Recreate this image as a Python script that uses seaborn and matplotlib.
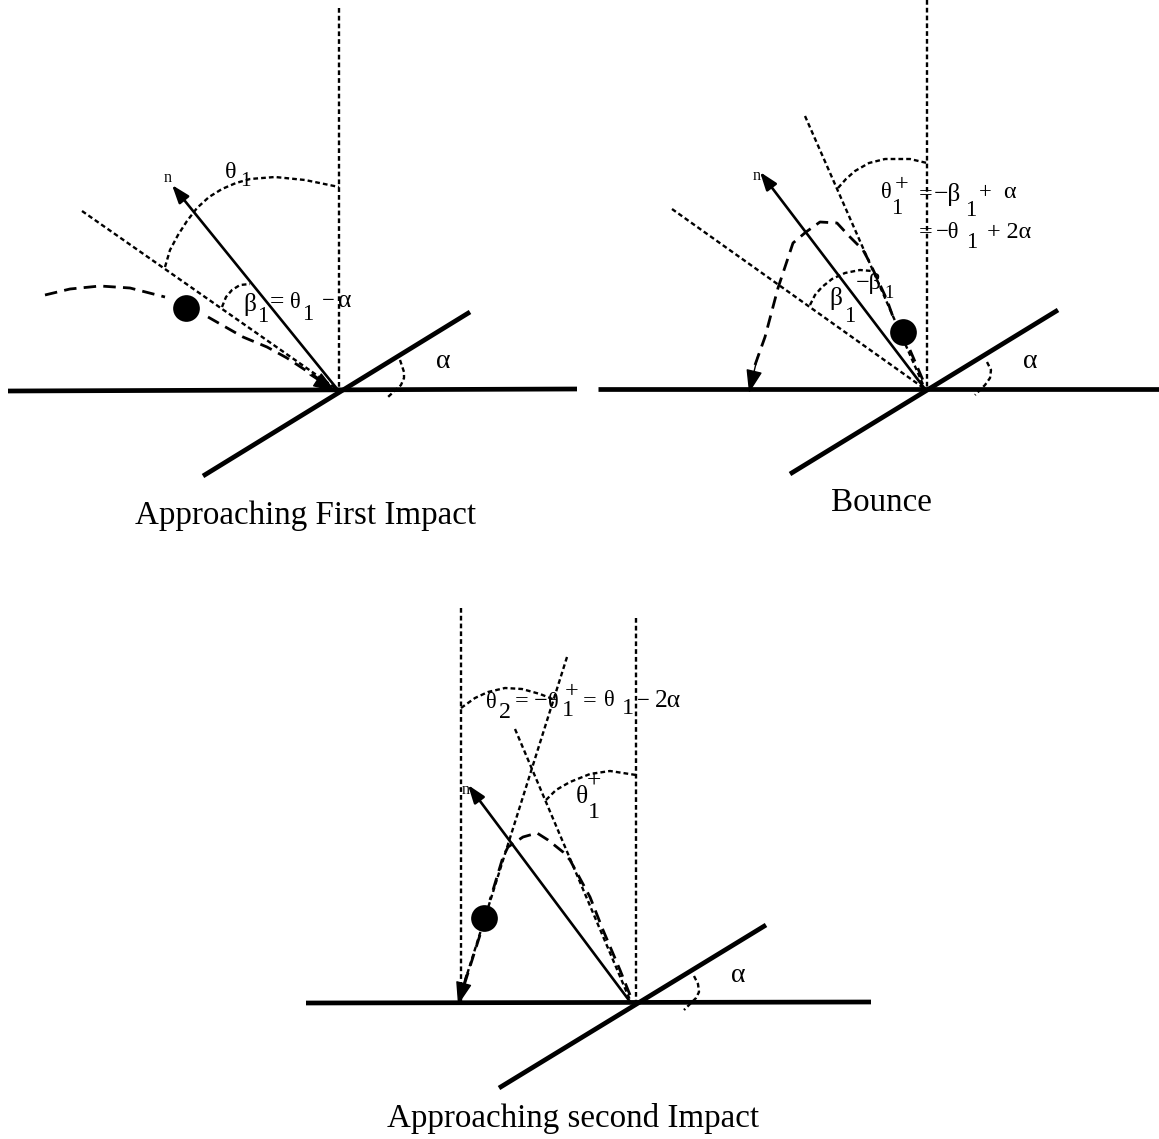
import matplotlib
matplotlib.use("Agg")
import matplotlib.pyplot as plt
import seaborn as sns

W, H = 1159, 1139

# ---- geometry (pixel coordinates) ----
# thick lines: ground and incline
thick_x = [[8, 577], [203, 470], [598, 1159], [790, 1058], [306, 871], [499, 766]]
thick_y = [[391, 389], [476, 312], [389, 389], [474, 310], [1003, 1002], [1088, 925]]

# fine dotted straight lines (verticals and reference lines)
ref_x = [[339, 339], [82, 338], [927, 927], [672, 925], [805, 925],
         [461, 461], [636, 636], [567, 459], [515, 630]]
ref_y = [[8, 390], [211, 390], [0, 389], [209, 389], [116, 389],
         [608, 1003], [618, 1003], [657, 1000], [729, 1000]]

# angle arcs (dotted)
arc_x = [[165, 170, 178, 187, 197, 209, 222, 236, 250, 275, 305, 339],
         [222, 226, 232, 240, 250],
         [400, 404, 404, 401, 388],
         [838, 846, 855, 869, 885, 910, 927],
         [810, 815, 822, 832, 845, 860, 872],
         [987, 991, 990, 985, 975],
         [461, 475, 488, 505, 522, 540, 555],
         [546, 556, 570, 590, 610, 636],
         [694, 698, 699, 696, 684]]
arc_y = [[267, 250, 235, 221, 208, 197, 189, 183, 179, 177, 180, 187],
         [307, 297, 290, 285, 284],
         [360, 372, 378, 385, 397],
         [188, 179, 171, 163, 159, 159, 163],
         [305, 295, 287, 279, 273, 270, 271],
         [362, 370, 378, 385, 395],
         [708, 698, 692, 688, 689, 694, 700],
         [800, 790, 782, 774, 771, 775],
         [976, 984, 992, 998, 1010]]

# dashed ball trajectories
traj_x = [[45, 70, 100, 130, 165], [208, 243, 267, 287, 325],
          [755, 765, 778, 793, 806, 820, 837, 850, 863, 870, 887, 893], [910, 925],
          [630, 620, 603, 590, 570, 563, 548, 537, 523, 508, 503, 490], [480, 461]]
traj_y = [[295, 289, 286, 288, 297], [317, 337, 347, 358, 383],
          [365, 337, 288, 243, 232, 222, 223, 237, 250, 263, 300, 317], [350, 385],
          [995, 970, 930, 897, 860, 852, 840, 833, 837, 847, 857, 900], [935, 995]]

# balls
ball_x = [186, 903, 484]
ball_y = [308, 332, 918]

# normal vectors: tail, head
normal_tail = [(338, 390), (925, 389), (631, 1003)]
normal_head = [(172, 185), (760, 172), (468, 785)]
normal_label = [(168, 178), (757, 176), (466, 790)]

# trajectory arrow heads: tail, tip
tip_tail = [(310, 375), (758, 355), (466, 975)]
tip_head = [(336, 392), (749, 393), (458, 1005)]

# text pieces: string, x, y, size
big = [("Approaching First Impact", 306, 516),
       ("Bounce", 881, 503),
       ("Approaching second Impact", 573, 1118)]
alpha_labels = [("α", 443, 362), ("α", 1030, 361), ("α", 738, 976)]
pieces = [
    ("θ", 231, 172, 17), ("1", 245, 181, 15),
    ("β", 250, 304, 18), ("1", 263, 316, 16), ("=", 277, 302, 18),
    ("θ", 295, 302, 16), ("1", 308, 314, 16), ("−", 328, 301, 16), ("α", 345, 301, 18),
    ("θ", 886, 193, 16), ("1", 897, 209, 16), ("+", 902, 185, 17), ("=", 926, 195, 17),
    ("−β", 947, 195, 18), ("1", 971, 211, 16), ("+", 985, 193, 16), ("α", 1009, 193, 17),
    ("=", 926, 233, 17), ("−θ", 948, 232, 16), ("1", 972, 243, 16), ("+ 2α", 1009, 232, 17),
    ("β", 836, 299, 18), ("1", 850, 316, 16),
    ("−β", 869, 284, 17), ("1", 889, 294, 13),
    ("θ", 491, 702, 16), ("2", 505, 713, 17), ("=", 522, 702, 17), ("−", 541, 702, 17), ("θ", 553, 702, 16),
    ("1", 568, 711, 17), ("+", 572, 692, 17), ("=", 590, 702, 17), ("θ", 609, 701, 16),
    ("1", 628, 708, 17), ("−", 643, 702, 16), ("2α", 668, 701, 18),
    ("θ", 582, 797, 18), ("1", 594, 812, 17), ("+", 594, 782, 18),
]

SERIF = ["Liberation Serif", "DejaVu Serif"]
DOTTED = (0, (2.0, 1.3))
DASHED = (0, (4.5, 2.6))

sns.set_theme(style="white")
plt.rcParams["font.family"] = SERIF

fig, ax = plt.subplots(figsize=(W / 100, H / 100), dpi=100)
fig.subplots_adjust(0, 0, 1, 1)


def stroke(xs, ys, lw, ls="-"):
    sns.lineplot(x=xs, y=ys, sort=False, estimator=None, color="black",
                 linewidth=lw, linestyle=ls, ax=ax, legend=False,
                 solid_capstyle="butt", dash_capstyle="butt")


for xs, ys in zip(thick_x, thick_y):
    stroke(xs, ys, 3.4)
for xs, ys in zip(ref_x, ref_y):
    stroke(xs, ys, 1.7, DOTTED)
for xs, ys in zip(arc_x, arc_y):
    stroke(xs, ys, 1.7, DOTTED)
for xs, ys in zip(traj_x, traj_y):
    stroke(xs, ys, 2.0, DASHED)

sns.scatterplot(x=ball_x, y=ball_y, s=370, color="black", linewidth=0, ax=ax, legend=False)

for a, b in zip(normal_tail, normal_head):
    ax.annotate("", xy=b, xytext=a,
                arrowprops=dict(arrowstyle="-|>,head_length=0.9,head_width=0.32",
                                color="black", lw=1.9, fc="black",
                                shrinkA=0, shrinkB=0))
for a, b in zip(tip_tail, tip_head):
    ax.annotate("", xy=b, xytext=a,
                arrowprops=dict(arrowstyle="-|>,head_length=1.2,head_width=0.42",
                                color="black", lw=1.0, shrinkA=0, shrinkB=0))

for (x, y) in normal_label:
    ax.text(x, y, "n", fontsize=11.5, ha="center", va="center", color="black")
for s, x, y in big:
    ax.text(x, y, s, fontsize=23.8, ha="center", va="center", color="black")
for s, x, y in alpha_labels:
    ax.text(x, y, s, fontsize=20, ha="center", va="center", color="black")
for s, x, y, size in pieces:
    ax.text(x, y, s, fontsize=size * 1.02, ha="center", va="center", color="black")

ax.set_xlim(0, W)
ax.set_ylim(H, 0)
ax.set_axis_off()
fig.savefig("out.png", dpi=100, facecolor="white")
